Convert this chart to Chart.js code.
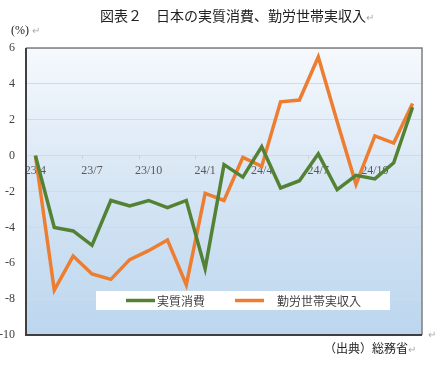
<!DOCTYPE html>
<html>
<head>
<meta charset="utf-8">
<script src="https://cdn.jsdelivr.net/npm/chart.js@4/dist/chart.umd.min.js"></script>
<style>
  body { margin: 0; background: #fff; }
  #wrap { position: relative; width: 437px; height: 368px; }
  canvas { position: absolute; left: 0; top: 0; }
  .txt { position: absolute; font-family: "Noto Sans CJK JP", sans-serif; color: #222; white-space: nowrap; }
  .ret { color: #aaa; font-size: 10px; }
</style>
</head>
<body>
<div id="wrap">
  <canvas id="lineChart" width="437" height="368"></canvas>
  <div class="txt" style="left:100px; top:5px; font-size:14px;">図表２　日本の実質消費、勤労世帯実収入<span class="ret">↵</span></div>
  <div class="txt" style="left:11px; top:23px; font-size:12px; font-family:'Liberation Serif', serif;">(%) <span class="ret">↵</span></div>
  <div class="txt" style="left:324px; top:339px; font-size:12px;">（出典）総務省<span class="ret">↵</span></div>
  <div class="txt ret" style="left:428px; top:326px;">↵</div>
</div>
<script>
const months = ["23/4", "23/5", "23/6", "23/7", "23/8", "23/9", "23/10", "23/11", "23/12",
  "24/1", "24/2", "24/3", "24/4", "24/5", "24/6", "24/7", "24/8", "24/9", "24/10", "24/11", "24/12"];
const realConsumption = [0, -4.0, -4.2, -5.0, -2.5, -2.8, -2.5, -2.9, -2.5,
  -6.3, -0.5, -1.2, 0.5, -1.8, -1.4, 0.1, -1.9, -1.1, -1.3, -0.4, 2.7];
const realIncome = [0, -7.5, -5.6, -6.6, -6.9, -5.8, -5.3, -4.7, -7.2,
  -2.1, -2.5, -0.1, -0.6, 3.0, 3.1, 5.5, 1.9, -1.6, 1.1, 0.7, 2.9];
const yTicks = [6, 4, 2, 0, -2, -4, -6, -8, -10];

// background gradient + frame + legend box
const decor = {
  id: "decor",
  beforeDraw(chart) {
    const { ctx, chartArea: a } = chart;
    const g = ctx.createLinearGradient(0, a.top, 0, a.bottom);
    g.addColorStop(0, "#f6f9fd");
    g.addColorStop(0.5, "#d5e5f4");
    g.addColorStop(1, "#bcd6ee");
    ctx.save();
    ctx.fillStyle = g;
    ctx.fillRect(a.left, a.top, a.right - a.left, a.bottom - a.top);
    ctx.restore();
  },
  afterDraw(chart) {
    const { ctx, chartArea: a } = chart;
    ctx.save();
    ctx.strokeStyle = "#7f7f7f";
    ctx.lineWidth = 1.5;
    ctx.beginPath();
    ctx.moveTo(a.left, a.top);
    ctx.lineTo(a.right, a.top);
    ctx.lineTo(a.right, a.bottom);
    ctx.stroke();
    ctx.strokeStyle = "#404040";
    ctx.lineWidth = 2;
    ctx.beginPath();
    ctx.moveTo(a.left, a.top);
    ctx.lineTo(a.left, a.bottom);
    ctx.lineTo(a.right, a.bottom);
    ctx.stroke();

    // legend inside plot
    const bx = a.left + 70, by = a.bottom - 44;
    ctx.fillStyle = "#ffffff";
    ctx.fillRect(bx, by, 294, 19);
    ctx.font = '12px "Noto Sans CJK JP"';
    ctx.textBaseline = "middle";
    const items = [
      { ds: chart.data.datasets[0], x: bx + 30, tx: bx + 61 },
      { ds: chart.data.datasets[1], x: bx + 139, tx: bx + 181 },
    ];
    items.forEach((it) => {
      ctx.strokeStyle = it.ds.borderColor;
      ctx.lineWidth = 3.5;
      ctx.beginPath();
      ctx.moveTo(it.x, by + 9.5);
      ctx.lineTo(it.x + 29, by + 9.5);
      ctx.stroke();
      ctx.fillStyle = "#404040";
      ctx.fillText(it.ds.label, it.tx, by + 10);
    });
    ctx.restore();
  },
};

function initializeChart() {
  const ctx = document.getElementById("lineChart").getContext("2d");
  new Chart(ctx, {
    type: "line",
    data: {
      labels: months,
      datasets: [
        {
          label: "実質消費",
          data: realConsumption,
          borderColor: "#548235",
          borderWidth: 3.5,
          pointRadius: 0,
          tension: 0,
        },
        {
          label: "勤労世帯実収入",
          data: realIncome,
          borderColor: "#ed7d31",
          borderWidth: 3.5,
          pointRadius: 0,
          tension: 0,
        },
      ],
    },
    options: {
      responsive: false,
      animation: false,
      layout: { padding: { left: 0, top: 48, right: 15, bottom: 33 } },
      plugins: {
        legend: { display: false },
        tooltip: { enabled: false },
      },
      scales: {
        x: {
          position: { y: 0 },
          offset: true,
          border: { color: "#d9d9d9", width: 1 },
          grid: {
            offset: true,
            drawOnChartArea: false,
            tickLength: 3,
            color: (c) => (c.index > 0 && c.index % 3 === 0 ? "#d0d0d0" : "rgba(0,0,0,0)"),
          },
          ticks: {
            autoSkip: false,
            maxRotation: 0,
            padding: 5,
            color: "#595959",
            font: { family: "Liberation Serif", size: 12 },
            callback: (v, i) => (i % 3 === 0 ? months[i] : ""),
          },
        },
        y: {
          min: -10,
          max: 6,
          afterFit: (s) => { s.width = 26; },
          afterBuildTicks: (s) => { s.ticks = yTicks.map((v) => ({ value: v })); },
          border: { display: false },
          grid: { color: "#d9d9d9", drawTicks: false },
          ticks: {
            padding: 11,
            color: "#404040",
            font: { family: "Liberation Serif", size: 12 },
          },
        },
      },
    },
    plugins: [decor],
  });
}

document.addEventListener("DOMContentLoaded", () => {
  initializeChart();
});
</script>
</body>
</html>
